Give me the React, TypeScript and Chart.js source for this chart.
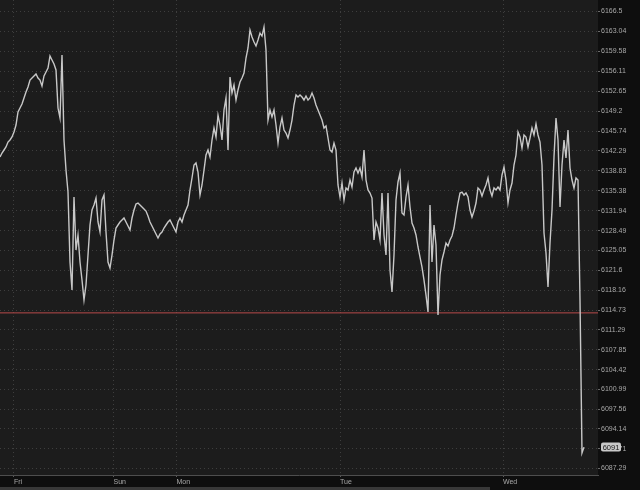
import { useEffect, useRef } from "react";
import { Chart, registerables } from "chart.js";

Chart.register(...registerables);

// Price series (index = bar number), split by session
const thuFriPrices = [
  6141.25, 6141.94, 6142.46, 6142.98, 6143.84, 6144.19, 6144.71, 6145.58, 6146.79, 6149.04,
  6149.73, 6150.43, 6151.47, 6152.5, 6153.37, 6154.58, 6154.93, 6155.28, 6155.62, 6154.93,
  6154.58, 6153.54, 6155.28, 6155.97, 6156.66, 6158.74, 6158.05, 6157.35, 6156.32, 6149.73,
  6148.0, 6158.91, 6144.19, 6138.99, 6135.18, 6123.06, 6118.21, 6134.32, 6125.14, 6127.74,
  6123.06, 6119.94, 6116.48, 6119.08, 6124.27, 6129.47, 6132.07, 6132.93, 6134.14, 6129.99,
  6128.26, 6133.8, 6134.66, 6128.26, 6123.06, 6122.02, 6124.27,
];
const sundayPrices = [
  6126.87, 6128.95, 6129.47, 6129.99, 6130.33, 6130.68, 6129.99, 6129.29, 6128.6, 6130.68,
  6132.07, 6133.11, 6133.28, 6132.93, 6132.59, 6132.24, 6131.89, 6131.03, 6129.99, 6129.29,
  6128.6, 6127.91, 6127.22, 6127.91, 6128.26, 6128.95, 6129.47, 6129.99, 6130.33, 6129.64,
  6128.95, 6128.26,
];
const mondayPrices = [
  6129.99, 6130.68, 6129.99, 6131.2, 6132.07, 6132.93, 6135.53, 6137.61, 6139.86, 6140.21,
  6138.65, 6134.66, 6136.4, 6138.99, 6141.59, 6142.46, 6141.25, 6144.19, 6146.27, 6144.71,
  6148.52, 6146.79, 6144.19, 6149.39, 6151.47, 6142.46, 6155.1, 6152.33, 6153.72, 6151.12,
  6152.85, 6154.24, 6154.93, 6155.8, 6158.39, 6160.13, 6163.24, 6162.03, 6161.17, 6160.47,
  6161.51, 6162.72, 6162.2, 6163.76, 6159.78, 6147.65, 6149.39, 6148.17, 6149.39, 6146.79,
  6143.67, 6146.44, 6148.0, 6145.92, 6145.4, 6144.54, 6145.92, 6147.65, 6150.25, 6151.99,
  6151.64, 6151.99, 6151.64, 6151.12, 6151.81, 6151.12, 6151.47, 6152.33, 6151.47, 6150.25,
  6149.39, 6148.52, 6147.65, 6146.27, 6146.62, 6144.54, 6142.46, 6142.11, 6143.67, 6142.46,
  6136.4,
];
const tuesdayPrices = [
  6134.32, 6136.74, 6133.8, 6135.88, 6135.53, 6137.26, 6136.05, 6138.65, 6139.34, 6138.47,
  6139.34, 6137.78, 6142.46, 6137.26, 6135.53, 6135.01, 6134.14, 6126.87, 6129.99, 6128.95,
  6126.87, 6135.01, 6127.74, 6124.27, 6135.01, 6121.67, 6117.86, 6124.27, 6133.8, 6136.92,
  6138.47, 6131.55, 6131.2, 6134.32, 6136.4, 6132.59, 6129.81, 6128.95, 6127.74, 6125.66,
  6123.92, 6122.19, 6119.94, 6117.34, 6114.4, 6132.93, 6123.06, 6129.47, 6126.0, 6113.88,
  6120.81, 6123.41, 6124.79, 6126.35, 6125.83, 6126.87, 6127.56, 6128.95, 6131.2, 6133.28,
  6135.01, 6135.18, 6134.66, 6135.01, 6134.32, 6132.07, 6130.85, 6131.89, 6133.28, 6135.88,
  6135.53, 6134.49, 6135.53, 6136.4, 6137.61, 6135.53, 6134.49, 6135.88, 6135.53, 6136.05,
  6135.53, 6138.13,
];
const wednesdayPrices = [
  6139.51, 6137.26, 6133.28, 6135.53, 6136.74, 6139.86, 6141.59, 6145.58, 6144.71, 6142.8,
  6145.06, 6144.71, 6142.98, 6144.54, 6146.27, 6145.06, 6146.96, 6145.06, 6143.84, 6139.86,
  6128.08, 6124.62, 6118.73, 6126.35, 6132.07, 6141.25, 6148.0, 6144.19, 6132.59, 6139.86,
  6144.19, 6141.07, 6145.92, 6139.34, 6137.26, 6135.88, 6137.61, 6137.26, 6116.48, 6089.98,
  6091.0,
];

const dayLabels = ["Fri", "Sun", "Mon", "Tue", "Wed"];
const dayTickIndex = [7, 56.75, 88.25, 170, 251.5];

const priceTickLabels = [
  "6166.5", "6163.04", "6159.58", "6156.11", "6152.65", "6149.2", "6145.74", "6142.29",
  "6138.83", "6135.38", "6131.94", "6128.49", "6125.05", "6121.6", "6118.16", "6114.73",
  "6111.29", "6107.85", "6104.42", "6100.99", "6097.56", "6094.14", "6090.71", "6087.29",
];

const referenceLevel = 6114.25;
const lastPrice = 6091.0;
const lastPriceLabel = "6091";
const priceMin = 6086.17;
const priceMax = 6168.44;
const barCount = 299;

export default function App() {
  const canvasRef = useRef<HTMLCanvasElement>(null);

  useEffect(() => {
    document.body.style.margin = "0";
    document.body.style.background = "#0e0e0e";
    const canvas = canvasRef.current;
    if (!canvas) return;

    const prices = [
      ...thuFriPrices,
      ...sundayPrices,
      ...mondayPrices,
      ...tuesdayPrices,
      ...wednesdayPrices,
    ];
    const points = prices.map((p, i) => ({ x: i, y: p }));
    const priceTickValues = priceTickLabels.map((s) => Number(s));

    const bgPlugin = {
      id: "bgPlugin",
      beforeDraw(chart: any) {
        const { ctx, chartArea: a, width, height } = chart;
        ctx.save();
        ctx.fillStyle = "#0e0e0e";
        ctx.fillRect(0, 0, width, height);
        ctx.fillStyle = "#1c1c1c";
        ctx.fillRect(a.left, a.top, a.right - a.left, a.bottom - a.top);
        ctx.restore();
      },
      afterDraw(chart: any) {
        const { ctx, chartArea: a, height } = chart;
        const ys = chart.scales.y;
        const py = ys.getPixelForValue(lastPrice);
        ctx.save();
        // last price box
        const bx = a.right + 3;
        const bw = 20;
        const bh = 9;
        ctx.fillStyle = "#c9c9c9";
        ctx.beginPath();
        const r = 2;
        const by = py - bh / 2;
        ctx.moveTo(bx + r, by);
        ctx.lineTo(bx + bw - r, by);
        ctx.quadraticCurveTo(bx + bw, by, bx + bw, by + r);
        ctx.lineTo(bx + bw, by + bh - r);
        ctx.quadraticCurveTo(bx + bw, by + bh, bx + bw - r, by + bh);
        ctx.lineTo(bx + r, by + bh);
        ctx.quadraticCurveTo(bx, by + bh, bx, by + bh - r);
        ctx.lineTo(bx, by + r);
        ctx.quadraticCurveTo(bx, by, bx + r, by);
        ctx.fill();
        ctx.fillStyle = "#1a1a1a";
        ctx.font = "7.5px 'Liberation Sans'";
        ctx.textAlign = "center";
        ctx.textBaseline = "middle";
        ctx.fillText(lastPriceLabel, bx + bw / 2, py + 0.5);
        // bottom toolbar strip
        ctx.fillStyle = "#383838";
        ctx.fillRect(0, height - 3, 490, 3);
        ctx.restore();
      },
    };

    const chart = new Chart(canvas, {
      type: "line",
      data: {
        datasets: [
          {
            data: points,
            borderColor: "#c8c8c8",
            borderWidth: 1.4,
            pointRadius: 0,
            tension: 0,
          },
          {
            data: [
              { x: 0, y: referenceLevel },
              { x: barCount, y: referenceLevel },
            ],
            borderColor: "#b84a4a",
            borderWidth: 1,
            pointRadius: 0,
          },
        ],
      },
      options: {
        responsive: false,
        animation: false,
        events: [],
        layout: { padding: 0 },
        plugins: { legend: { display: false }, tooltip: { enabled: false } },
        scales: {
          x: {
            type: "linear",
            min: 0,
            max: barCount,
            afterFit(s: any) {
              s.height = 15;
              s.paddingLeft = 0;
              s.paddingRight = 0;
            },
            afterBuildTicks(s: any) {
              s.ticks = dayTickIndex.map((v) => ({ value: v }));
            },
            ticks: {
              autoSkip: false,
              maxRotation: 0,
              align: "start",
              padding: 1,
              color: "#a8a8a8",
              font: { family: "Liberation Sans", size: 7 },
              callback: (_v: any, i: number) => dayLabels[i],
            },
            grid: {
              color: "#3e3e3e",
              tickColor: "#5a5a5a",
              tickLength: 2,
            },
            border: { display: true, color: "#4e4e4e", width: 1, dash: [1, 3] },
          },
          y: {
            type: "linear",
            position: "right",
            min: priceMin,
            max: priceMax,
            afterFit(s: any) {
              s.width = 42;
              s.paddingTop = 0;
              s.paddingBottom = 0;
            },
            afterBuildTicks(s: any) {
              s.ticks = priceTickValues.map((v) => ({ value: v }));
            },
            ticks: {
              autoSkip: false,
              padding: 1,
              color: "#a8a8a8",
              font: { family: "Liberation Sans", size: 7 },
              callback: (_v: any, i: number) => priceTickLabels[i],
            },
            grid: {
              color: "#3e3e3e",
              tickColor: "#6a6a6a",
              tickLength: 2,
            },
            border: { display: false, dash: [1, 3] },
          },
        },
      },
      plugins: [bgPlugin],
    } as any);

    return () => chart.destroy();
  }, []);

  return (
    <canvas
      ref={canvasRef}
      width={640}
      height={490}
      style={{ display: "block", width: 640, height: 490 }}
    />
  );
}
